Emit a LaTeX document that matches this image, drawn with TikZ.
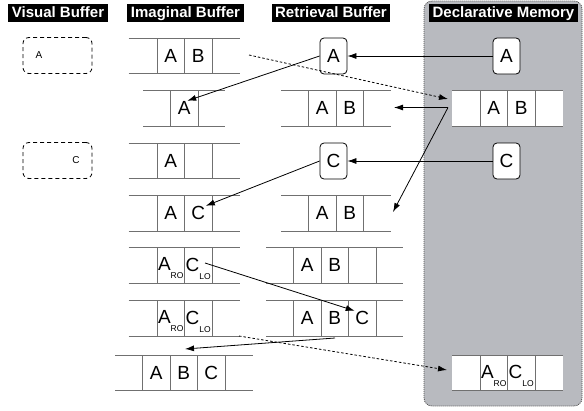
\documentclass[tikz,border=0pt]{standalone}
\usepackage{fontspec}
\setmainfont{Liberation Sans}
\usetikzlibrary{arrows.meta}
\definecolor{dmgrau}{RGB}{184,186,191}
\definecolor{zeilgrau}{RGB}{112,112,112}
\newcommand{\lowsub}[1]{\raisebox{-8pt}{\fontsize{8.5}{8.5}\selectfont #1}}

\begin{document}
\begin{tikzpicture}[x=1pt,y=-1pt,
  hdr/.style={fill=black,text=white,font=\fontsize{15}{15}\selectfont\bfseries,
    inner xsep=3.5pt,inner ysep=2pt,text height=11pt,text depth=3pt},
  cellt/.style={font=\fontsize{19}{19}\selectfont,inner sep=0.5pt},
  smallt/.style={font=\fontsize{10}{10}\selectfont,inner sep=0.5pt},
  chunk/.style={draw,line width=0.8pt,rounded corners=4pt,fill=white,minimum width=27pt,
    minimum height=36pt,inner sep=0pt,font=\fontsize{19}{19}\selectfont},
  vbox/.style={draw,line width=0.8pt,dash pattern=on 4pt off 3pt,rounded corners=6pt,
    minimum width=69pt,minimum height=36pt},
  rline/.style={draw=zeilgrau,line width=1pt},
  arr/.style={-{Latex[length=9pt,width=6pt]},line width=0.8pt},
  dotarr/.style={arr,dash pattern=on 2.5pt off 2pt}]
			\useasboundingbox (0,0) rectangle (584,410);
			% declarative memory region
			\draw[draw=black!70,line width=0.8pt,dash pattern=on 1pt off 1pt,fill=dmgrau,rounded corners=8pt] (424,1) rectangle (582,406);
			\node[hdr] (hvis) at (58,13) {Visual Buffer};
			\node[hdr] (himag) at (185.5,13) {Imaginal Buffer};
			\node[hdr] (hretr) at (331,13) {Retrieval Buffer};
			\node[hdr] (hdecl) at (503.5,13) {Declarative Memory};
			% visual buffer
			\node[vbox] (vbufa) at (57.5,55.5) {};
			\node[smallt] (vbufatxt) at (39,55) {A};
			\node[vbox] (vbufc) at (57.5,160.5) {};
			\node[smallt] (vbufctxt) at (76,160) {C};
			% imaginal buffer
			\draw[rline] (128.5,38) -- (239.5,38) (128.5,73) -- (239.5,73)
				(157,38) -- (157,73) (184.5,38) -- (184.5,73) (212,38) -- (212,73);
			\node[cellt] (im1a) at (170.75,55.5) {A};
			\node[cellt] (im1b) at (198.25,55.5) {B};
			\draw[rline] (143,90) -- (225,90) (143,126) -- (225,126)
				(170.5,90) -- (170.5,126) (198,90) -- (198,126);
			\node[cellt] (im2a) at (184.25,108) {A};
			\draw[rline] (128.5,143) -- (239.5,143) (128.5,178.5) -- (239.5,178.5)
				(157,143) -- (157,178.5) (184.5,143) -- (184.5,178.5) (212,143) -- (212,178.5);
			\node[cellt] (im3a) at (170.75,160.75) {A};
			\draw[rline] (128.5,195.5) -- (239.5,195.5) (128.5,231) -- (239.5,231)
				(157,195.5) -- (157,231) (184.5,195.5) -- (184.5,231) (212,195.5) -- (212,231);
			\node[cellt] (im4a) at (170.75,213.25) {A};
			\node[cellt] (im4c) at (198.25,213.25) {C};
			\draw[rline] (128.5,247.5) -- (239.5,247.5) (128.5,283) -- (239.5,283)
				(157,247.5) -- (157,283) (184.5,247.5) -- (184.5,283) (212,247.5) -- (212,283);
			\node[cellt] (im5a) at (170.75,268.5) {A\lowsub{RO}};
			\node[cellt] (im5c) at (198.25,268.5) {C\lowsub{LO}};
			\draw[rline] (128.5,300.5) -- (239.5,300.5) (128.5,336) -- (239.5,336)
				(157,300.5) -- (157,336) (184.5,300.5) -- (184.5,336) (212,300.5) -- (212,336);
			\node[cellt] (im6a) at (170.75,321.5) {A\lowsub{RO}};
			\node[cellt] (im6c) at (198.25,321.5) {C\lowsub{LO}};
			\draw[rline] (115,355) -- (253,355) (115,390.5) -- (253,390.5)
				(142.5,355) -- (142.5,390.5) (170,355) -- (170,390.5) (197.5,355) -- (197.5,390.5) (225,355) -- (225,390.5);
			\node[cellt] (im7a) at (156.25,372.75) {A};
			\node[cellt] (im7b) at (183.75,372.75) {B};
			\node[cellt] (im7c) at (211.25,372.75) {C};
			% retrieval buffer
			\draw[rline] (281,90) -- (391,90) (281,126) -- (391,126)
				(308.5,90) -- (308.5,126) (336,90) -- (336,126) (363.5,90) -- (363.5,126);
			\node[cellt] (rb2a) at (322.25,108) {A};
			\node[cellt] (rb2b) at (349.75,108) {B};
			\draw[rline] (281,195.5) -- (391,195.5) (281,231) -- (391,231)
				(308.5,195.5) -- (308.5,231) (336,195.5) -- (336,231) (363.5,195.5) -- (363.5,231);
			\node[cellt] (rb4a) at (322.25,213.25) {A};
			\node[cellt] (rb4b) at (349.75,213.25) {B};
			\draw[rline] (266,247.5) -- (403,247.5) (266,283) -- (403,283)
				(293.5,247.5) -- (293.5,283) (321,247.5) -- (321,283) (348.5,247.5) -- (348.5,283) (376,247.5) -- (376,283);
			\node[cellt] (rb5a) at (307.25,265.25) {A};
			\node[cellt] (rb5b) at (334.75,265.25) {B};
			\draw[rline] (266,300.5) -- (403,300.5) (266,336) -- (403,336)
				(293.5,300.5) -- (293.5,336) (321,300.5) -- (321,336) (348.5,300.5) -- (348.5,336) (376,300.5) -- (376,336);
			\node[cellt] (rb6a) at (307.25,318.25) {A};
			\node[cellt] (rb6b) at (334.75,318.25) {B};
			\node[cellt] (rb6c) at (362.25,318.25) {C};
			% declarative memory
			\fill[white] (452,90) rectangle (563,126);
			\draw[rline] (452,90) -- (563,90) (452,126) -- (563,126)
				(480,90) -- (480,126) (507.5,90) -- (507.5,126) (535,90) -- (535,126);
			\node[cellt] (dmaba) at (493.75,108) {A};
			\node[cellt] (dmabb) at (521.25,108) {B};
			\fill[white] (452,355) rectangle (563,390.5);
			\draw[rline] (452,355) -- (563,355) (452,390.5) -- (563,390.5)
				(480,355) -- (480,390.5) (507.5,355) -- (507.5,390.5) (535,355) -- (535,390.5);
			\node[cellt] (dmroa) at (493.75,376) {A\lowsub{RO}};
			\node[cellt] (dmroc) at (521.25,376) {C\lowsub{LO}};
			% chunks
			\node[chunk] (rbA) at (333.5,56) {A};
			\node[chunk] (rbC) at (333.5,161) {C};
			\node[chunk] (dmA) at (506.5,56) {A};
			\node[chunk] (dmC) at (506.5,161) {C};
			% arrows
			\coordinate (im1r) at (249,55);
			\coordinate (dmabtip) at (448,99);
			\coordinate (dmabl) at (448,107.5);
			\coordinate (rb2r) at (394,107.5);
			\coordinate (rb4r) at (393,212);
			\coordinate (im5cr) at (205,263);
			\coordinate (rb6bot) at (335,338);
			\coordinate (im7top) at (185,349);
			\coordinate (im6r) at (239,336);
			\coordinate (dmrotip) at (447,370);
			\draw[dotarr] (im1r) -- (dmabtip);
			\draw[arr] (dmA.west) -- (rbA.east);
			\draw[arr] (rbA.west) -- ([xshift=3pt]im2a.north);
			\draw[arr] (dmabl) -- (rb2r);
			\draw[arr] (dmabl) -- (rb4r);
			\draw[arr] (dmC.west) -- (rbC.east);
			\draw[arr] (rbC.west) -- (im4c.north east);
			\draw[arr] (im5cr) -- (rb6c.north west);
			\draw[arr] (rb6bot) -- (im7top);
			\draw[dotarr] (im6r) -- (dmrotip);
		\end{tikzpicture}
\end{document}
